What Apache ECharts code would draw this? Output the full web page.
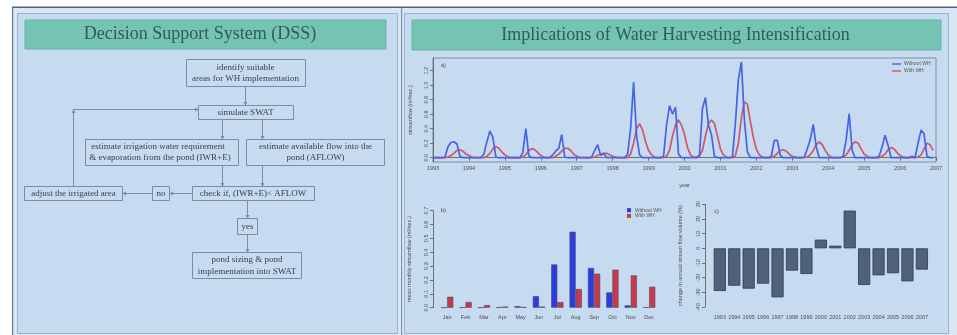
<!DOCTYPE html>
<html><head><meta charset="utf-8">
<script src="https://cdn.jsdelivr.net/npm/echarts@6/dist/echarts.min.js"></script>
<style>html,body{margin:0;padding:0;background:#fff;}#c{width:957px;height:335px;}</style>
</head><body><div id="c"></div>
<script>
// ---------- data ----------
const lineYTicks = [0, 0.2, 0.4, 0.6, 0.8, 1.0, 1.2];
// monthly streamflow (m3/s), Jan 1993 .. Dec 2006
const withoutWH = [
  0,0,0,0,0.01,0.15,0.21,0.22,0.19,0.02,0,0,
  0,0,0,0,0,0.05,0.22,0.37,0.28,0.01,0,0,
  0,0,0,0,0,0,0.07,0.40,0.03,0,0,0,
  0,0,0,0,0.04,0.09,0.13,0.32,0.01,0,0,0,
  0,0,0,0,0,0.01,0.10,0.18,0.03,0.06,0,0,
  0,0,0,0,0,0.05,0.40,1.04,0.30,0.04,0,0,
  0,0,0,0,0,0.02,0.45,0.72,0.60,0.70,0.05,0,
  0,0,0,0,0,0.02,0.68,0.83,0.45,0.32,0.02,0,
  0,0,0,0,0.01,0.48,1.08,1.32,0.52,0.08,0,0,
  0,0,0,0,0,0.02,0.24,0.24,0.03,0,0,0,
  0,0,0,0,0.01,0.12,0.25,0.46,0.15,0,0,0,
  0,0,0,0,0,0.02,0.25,0.61,0.10,0,0,0,
  0,0,0,0,0,0.02,0.15,0.31,0.17,0,0,0,
  0,0,0,0,0.02,0,0.20,0.38,0.33,0.02,0,0
];
const withWH = [
  0,0,0,0,0,0.01,0.03,0.06,0.10,0.11,0.09,0.05,
  0.03,0.01,0,0,0,0,0.02,0.06,0.12,0.155,0.13,0.08,
  0.04,0.015,0,0,0,0,0.01,0.04,0.10,0.125,0.11,0.07,
  0.03,0.01,0,0,0,0.02,0.05,0.09,0.13,0.13,0.10,0.05,
  0.02,0.005,0,0,0,0,0.01,0.03,0.05,0.06,0.06,0.04,
  0.02,0.01,0,0,0,0,0.05,0.20,0.40,0.47,0.38,0.22,
  0.10,0.04,0.01,0,0,0,0.02,0.10,0.30,0.45,0.52,0.45,
  0.32,0.14,0.04,0.01,0.01,0.03,0.10,0.30,0.47,0.52,0.47,0.30,
  0.12,0.04,0.01,0,0,0.03,0.20,0.55,0.77,0.74,0.50,0.28,
  0.12,0.04,0.01,0,0,0,0.02,0.06,0.10,0.11,0.09,0.05,
  0.02,0.01,0,0,0,0.01,0.04,0.10,0.18,0.22,0.18,0.10,
  0.04,0.01,0,0,0,0.01,0.04,0.10,0.18,0.22,0.20,0.12,
  0.05,0.02,0,0,0,0,0.02,0.05,0.11,0.14,0.12,0.07,
  0.03,0.01,0,0,0,0,0.01,0.04,0.12,0.20,0.18,0.10
];
const months = ['Jan','Feb','Mar','Apr','May','Jun','Jul','Aug','Sep','Oct','Nov','Dec'];
const monthlyWithout = [0.002,0.002,0.002,0.003,0.011,0.084,0.312,0.548,0.286,0.110,0.017,0.003];
const monthlyWith    = [0.079,0.041,0.019,0.008,0.005,0.008,0.041,0.135,0.245,0.274,0.233,0.151];
const annualYears = ['1993','1994','1995','1996','1997','1998','1999','2000','2001','2002','2003','2004','2005','2006','2007'];
const annualChange = [-29.1,-25.5,-27.5,-24.1,-33.4,-15.2,-17.5,5.9,1.8,25.7,-25.0,-18.4,-17.0,-22.5,-14.5];

// ---------- styles ----------
const SERIF = '"Liberation Serif","DejaVu Serif",serif';
const SANS = '"Liberation Sans",Arial,sans-serif';
const BG = '#c7dbf0';
const BOX = '#7b8ca3';
const TXT = '#3a3d4a';
const LBL = { fontSize: 5.5, color: '#4d4d55', fontFamily: SANS };
const C_BLUE_LINE = '#4763e6', C_RED_LINE = '#cf5867';
const C_BLUE_BAR = '#2a3ce2', C_RED_BAR = '#c9394e';

function T(text, x, y, size, color, font) {
  return { type: 'text', x: x, y: y, z: 10,
    style: { text: text, fill: color || TXT, font: (size || 9) + 'px ' + (font || SERIF),
      align: 'center', verticalAlign: 'middle', textAlign: 'center', textVerticalAlign: 'middle' } };
}
function R(x, y, w, h, fill, stroke, lw, z) {
  return { type: 'rect', z: z == null ? 5 : z, shape: { x: x, y: y, width: w, height: h },
    style: { fill: fill || 'none', stroke: stroke || null, lineWidth: lw || 1 } };
}
function L(x1, y1, x2, y2) {
  return { type: 'line', z: 5, shape: { x1: x1, y1: y1, x2: x2, y2: y2 }, style: { stroke: BOX, lineWidth: 1 } };
}
function head(x, y, dx, dy) {
  const s = 3.5, w = 2;
  const px = -dy, py = dx;
  return { type: 'polygon', z: 6, shape: { points: [[x, y], [x - dx * s + px * w, y - dy * s + py * w], [x - dx * s - px * w, y - dy * s - py * w]] },
    style: { fill: BOX } };
}
function arrow(x1, y1, x2, y2) {
  const len = Math.hypot(x2 - x1, y2 - y1), dx = (x2 - x1) / len, dy = (y2 - y1) / len;
  return [L(x1, y1, x2, y2), head(x2, y2, dx, dy)];
}

const g = [];
// page background panels
g.push(R(12, 6.5, 945, 1.5, '#4b6789', null, 1, -20));
g.push(R(12, 8, 389, 327, '#dae6f3', null, 1, -20));
g.push(R(12, 8, 1.2, 327, '#5d7594', null, 1, -19));
g.push(R(17.5, 13.5, 380, 320, BG, '#98b2cf', 1, -18));
g.push(R(401, 8, 556, 327, '#dae6f3', null, 1, -20));
g.push(R(401, 8, 1.2, 327, '#7f94ae', null, 1, -19));
g.push(R(404.5, 13.5, 544, 320, BG, '#98b2cf', 1, -18));
// title bars
g.push(R(25, 20, 361, 29, '#74c3b3', '#66b5a5', 1, -10));
g.push(T('Decision Support System (DSS)', 200, 34.5, 18, '#2f5d5a'));
g.push(R(412, 20, 529, 30, '#74c3b3', '#66b5a5', 1, -10));
g.push(T('Implications of Water Harvesting Intensification', 675.5, 35, 18, '#2f5d5a'));

// flowchart boxes
g.push(R(186.5, 59.5, 119, 27, null, BOX));
g.push(T('identify suitable', 245.5, 67.5));
g.push(T('areas for WH implementation', 245.5, 79));
g.push(R(198.5, 105.5, 95, 14, null, BOX));
g.push(T('simulate SWAT', 245.5, 112.5));
g.push(R(85.5, 139.5, 153, 26, null, BOX));
g.push(T('estimate irrigation water requirement', 158, 147));
g.push(T('& evaporation from the pond (IWR+E)', 160, 158));
g.push(R(246.5, 139.5, 138, 26, null, BOX));
g.push(T('estimate available flow into the', 315.5, 147));
g.push(T('pond (AFLOW)', 315.5, 158));
g.push(R(192.5, 186.5, 122, 14, null, BOX));
g.push(T('check if, (IWR+E)< AFLOW', 253, 193.5));
g.push(R(152.5, 186.5, 17, 14, null, BOX));
g.push(T('no', 161, 193.5));
g.push(R(24.5, 186.5, 98, 14, null, BOX));
g.push(T('adjust the irrigated area', 73.5, 193.5));
g.push(R(237.5, 218.5, 20, 16, null, BOX));
g.push(T('yes', 247.5, 226.5));
g.push(R(192.5, 252.5, 109, 26, null, BOX));
g.push(T('pond sizing & pond', 247, 260));
g.push(T('implementation into SWAT', 247, 271.5));
// arrows
[[245.5, 86.5, 245.5, 105.5], [222.5, 119.5, 222.5, 139.5], [262.5, 119.5, 262.5, 139.5],
 [222.5, 165.5, 222.5, 186.5], [262.5, 165.5, 262.5, 186.5], [192.5, 193.5, 169.5, 193.5],
 [152.5, 193.5, 122.5, 193.5], [73.5, 109.5, 198.5, 109.5], [247.5, 200.5, 247.5, 218.5],
 [247.5, 234.5, 247.5, 252.5]].forEach(a => arrow(a[0], a[1], a[2], a[3]).forEach(e => g.push(e)));
g.push(L(73.5, 186.5, 73.5, 109.5));
g.push(head(73.5, 109.5, 0, -1));

// panel labels
g.push(T('a)', 443.5, 65, 5.5, '#444', SANS));
g.push(T('b)', 443.5, 210, 5.5, '#444', SANS));
g.push(T('c)', 716.5, 211, 5.5, '#444', SANS));

const lineData1 = withoutWH.map((v, i) => [1993 + i / 12, v]);
const lineData2 = withWH.map((v, i) => [1993 + i / 12, v]);

const chart = echarts.init(document.getElementById('c'), null, { renderer: 'canvas' });
chart.setOption({
  animation: false,
  backgroundColor: '#fff',
  textStyle: { fontFamily: SANS },
  graphic: { elements: g },
  grid: [
    { left: 433, top: 58, width: 503, height: 104, show: true, borderColor: '#6d7c8c', borderWidth: 0.8, backgroundColor: 'transparent' },
    { left: 438, top: 210.6, width: 220.3, height: 97.1 },
    { left: 712.6, top: 204.3, width: 216.5, height: 102.7 }
  ],
  legend: [
    { left: 892, top: 60.5, orient: 'vertical', padding: 0, itemGap: 0, itemWidth: 9, itemHeight: 1.4,
      textStyle: { fontSize: 5, color: '#555', lineHeight: 7, padding: [0, 0, 0, -2] },
      data: [{ name: 'Without WH', icon: 'rect', itemStyle: { color: C_BLUE_LINE, borderWidth: 0 } },
             { name: 'With WH', icon: 'rect', itemStyle: { color: C_RED_LINE, borderWidth: 0 } }] },
    { left: 627, top: 207.3, orient: 'vertical', padding: 0, itemGap: 0, itemWidth: 4, itemHeight: 4,
      textStyle: { fontSize: 5, color: '#555', lineHeight: 5.7, padding: [0, 0, 0, -1] },
      formatter: n => n.replace(' (b)', ''),
      data: [{ name: 'Without WH (b)', icon: 'rect', itemStyle: { color: C_BLUE_BAR, borderWidth: 0 } },
             { name: 'With WH (b)', icon: 'rect', itemStyle: { color: C_RED_BAR, borderWidth: 0 } }] }
  ],
  xAxis: [
    { gridIndex: 0, type: 'value', min: 1993, max: 2007, interval: 1,
      name: 'year', nameLocation: 'middle', nameGap: 20.5, nameTextStyle: LBL,
      axisLine: { show: true, lineStyle: { color: '#555', width: 0.8 } },
      axisTick: { show: true, length: 3, lineStyle: { color: '#555', width: 0.8 } },
      axisLabel: Object.assign({ margin: 3.5, formatter: v => String(Math.round(v)) }, LBL),
      splitLine: { show: false } },
    { gridIndex: 1, type: 'category', data: months,
      axisLine: { show: false }, axisTick: { show: false },
      axisLabel: Object.assign({ margin: 7, interval: 0 }, LBL) },
    { gridIndex: 2, type: 'category', data: annualYears, position: 'bottom',
      axisLine: { show: false, onZero: false }, axisTick: { show: false },
      axisLabel: Object.assign({ margin: 7.5, interval: 0 }, LBL) }
  ],
  yAxis: [
    { gridIndex: 0, type: 'value', min: -0.059, max: 1.375,
      name: 'streamflow (m³/sec.)', nameLocation: 'middle', nameRotate: 90, nameGap: 20, nameTextStyle: LBL,
      axisLine: { show: true, lineStyle: { color: '#555', width: 0.8 } },
      axisTick: { show: true, length: 3, customValues: lineYTicks, lineStyle: { color: '#555', width: 0.8 } },
      axisLabel: Object.assign({ rotate: 90, margin: 4, customValues: lineYTicks, formatter: v => v.toFixed(1) }, LBL),
      splitLine: { show: false } },
    { gridIndex: 1, type: 'value', min: 0, max: 0.7, interval: 0.1, offset: 5,
      name: 'mean monthly streamflow (m³/sec.)', nameLocation: 'middle', nameRotate: 90, nameGap: 21, nameTextStyle: LBL,
      axisLine: { show: true, lineStyle: { color: '#555', width: 0.8 } },
      axisTick: { show: true, length: 3, lineStyle: { color: '#555', width: 0.8 } },
      axisLabel: Object.assign({ rotate: 90, margin: 4, formatter: v => v.toFixed(1) }, LBL),
      splitLine: { show: false } },
    { gridIndex: 2, type: 'value', min: -40, max: 30, interval: 10, offset: 7.6,
      name: 'change in annual stream flow volume (%)', nameLocation: 'middle', nameRotate: 90, nameGap: 22, nameTextStyle: LBL,
      axisLine: { show: true, onZero: false, lineStyle: { color: '#555', width: 0.8 } },
      axisTick: { show: true, length: 3, lineStyle: { color: '#555', width: 0.8 } },
      axisLabel: Object.assign({ rotate: 90, margin: 4 }, LBL),
      splitLine: { show: false } }
  ],
  series: [
    { name: 'Without WH', type: 'line', xAxisIndex: 0, yAxisIndex: 0, data: lineData1, symbol: 'none',
      itemStyle: { color: C_BLUE_LINE }, lineStyle: { color: C_BLUE_LINE, width: 1.7 }, z: 4 },
    { name: 'With WH', type: 'line', xAxisIndex: 0, yAxisIndex: 0, data: lineData2, symbol: 'none',
      itemStyle: { color: C_RED_LINE }, lineStyle: { color: C_RED_LINE, width: 1.7 }, z: 3 },
    { name: 'Without WH (b)', type: 'bar', xAxisIndex: 1, yAxisIndex: 1, data: monthlyWithout,
      barGap: '0%', barCategoryGap: '33%',
      itemStyle: { color: C_BLUE_BAR, borderColor: '#4a4d63', borderWidth: 0.6 } },
    { name: 'With WH (b)', type: 'bar', xAxisIndex: 1, yAxisIndex: 1, data: monthlyWith,
      barGap: '0%', barCategoryGap: '33%',
      itemStyle: { color: C_RED_BAR, borderColor: '#4a4d63', borderWidth: 0.6 } },
    { name: 'change', type: 'bar', xAxisIndex: 2, yAxisIndex: 2, data: annualChange,
      barCategoryGap: '16%',
      itemStyle: { color: '#4f6279', borderColor: '#2d3c4e', borderWidth: 0.8 } }
  ]
});
</script>
</body></html>
